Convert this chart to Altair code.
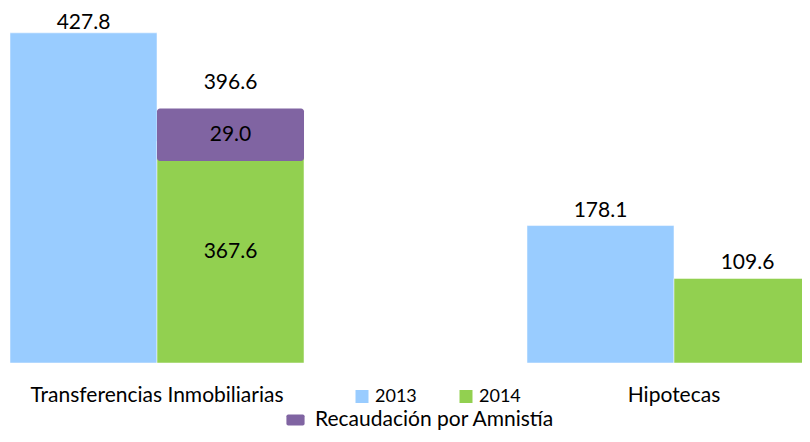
import altair as alt
import pandas as pd

# ---- data ----
categories = ["Transferencias Inmobiliarias", "Hipotecas"]
years = ["2013", "2014"]
values_2013 = [427.8, 178.1]
values_2014 = [367.6, 109.6]
# height at which the 2014 bars are actually drawn in the picture
drawn_2014 = [287.4, 109.6]
amnesty_label = "Recaudación por Amnistía"
amnesty_value = 29.0
amnesty_total = 396.6
# floating amnesty box over the 2014 transfer bar (low / high, value units)
amnesty_box = [261.9, 329.8]

BLUE, GREEN, PURPLE = "#99CCFF", "#92D050", "#8064A2"
FONT = "Lato"

bars = pd.DataFrame({
    "category": categories * 2,
    "year": ["2013"] * 2 + ["2014"] * 2,
    "height": values_2013 + drawn_2014,
    "label": [f"{v:.1f}" for v in values_2013 + values_2014],
})
bars["mid"] = bars["height"] / 2
is_inside = (bars["category"] == categories[0]) & (bars["year"] == "2014")
first_group = bars["category"] == categories[0]
top_labels_1 = bars[first_group & ~is_inside]
top_labels_2 = bars[~first_group]
inside_labels = bars[is_inside]

box = pd.DataFrame({
    "category": [categories[0]], "year": ["2014"], "serie": [amnesty_label],
    "lo": [amnesty_box[0]], "hi": [amnesty_box[1]],
    "mid": [(amnesty_box[0] + amnesty_box[1]) / 2],
    "label": [f"{amnesty_value:.1f}"], "total": [f"{amnesty_total:.1f}"],
})

x_enc = alt.X("category:N", sort=categories,
              scale=alt.Scale(range=[0, 815], paddingInner=0.4313, paddingOuter=0.00387),
              axis=alt.Axis(title=None, domain=False, ticks=False, labelAngle=0,
                            labelFont=FONT, labelFontSize=21, labelColor="black",
                            labelPadding=21, labelLimit=0))
xo_enc = alt.XOffset("year:N", sort=years,
                     scale=alt.Scale(domain=years, paddingInner=0, paddingOuter=0))
y_scale = alt.Scale(domain=[0, 460], nice=False, zero=True)

bar_layer = alt.Chart(bars).mark_bar(clip=True, stroke="white", strokeWidth=0.5).encode(
    x=x_enc, xOffset=xo_enc,
    y=alt.Y("height:Q", scale=y_scale, axis=None),
    color=alt.Color("year:N", scale=alt.Scale(domain=years, range=[BLUE, GREEN]),
                    legend=alt.Legend(title=None, orient="none", legendX=345, legendY=379.5,
                                      direction="horizontal", symbolType="square",
                                      symbolSize=169, symbolStrokeWidth=0,
                                      labelFont=FONT, labelFontSize=18, labelColor="black",
                                      labelOffset=4, columnPadding=40, padding=0)),
)

rounded = ("M-0.8,-0.6 L0.8,-0.6 Q1,-0.6 1,-0.4 L1,0.4 Q1,0.6 0.8,0.6 "
           "L-0.8,0.6 Q-1,0.6 -1,0.4 L-1,-0.4 Q-1,-0.6 -0.8,-0.6 Z")

box_layer = alt.Chart(box).mark_bar(cornerRadius=3).encode(
    x=x_enc, xOffset=xo_enc,
    y=alt.Y("hi:Q", scale=y_scale, axis=None), y2="lo:Q",
    color=alt.Color("serie:N", scale=alt.Scale(domain=[amnesty_label], range=[PURPLE]),
                    legend=alt.Legend(title=None, orient="none", legendX=277, legendY=401.5,
                                      symbolType=rounded, symbolSize=330, symbolStrokeWidth=0,
                                      labelFont=FONT, labelFontSize=21, labelColor="black",
                                      labelOffset=9, padding=0, labelLimit=400)),
)

txt = dict(font=FONT, fontSize=21, color="black")

top_text_1 = alt.Chart(top_labels_1).mark_text(baseline="alphabetic", dy=-4, **txt).encode(
    x=x_enc, xOffset=xo_enc, y=alt.Y("height:Q", scale=y_scale, axis=None), text="label:N")
top_text_2 = alt.Chart(top_labels_2).mark_text(baseline="alphabetic", dy=-9, **txt).encode(
    x=x_enc, xOffset=xo_enc, y=alt.Y("height:Q", scale=y_scale, axis=None), text="label:N")
inside_text = alt.Chart(inside_labels).mark_text(baseline="middle", **txt).encode(
    x=x_enc, xOffset=xo_enc, y=alt.Y("mid:Q", scale=y_scale, axis=None), text="label:N")
box_text = alt.Chart(box).mark_text(baseline="middle", **txt).encode(
    x=x_enc, xOffset=xo_enc, y=alt.Y("mid:Q", scale=y_scale, axis=None), text="label:N")
total_text = alt.Chart(box).mark_text(baseline="alphabetic", dy=-19, **txt).encode(
    x=x_enc, xOffset=xo_enc, y=alt.Y("hi:Q", scale=y_scale, axis=None), text="total:N")

chart = alt.layer(bar_layer, box_layer, top_text_1, top_text_2, inside_text, box_text,
                  total_text).resolve_scale(
    color="independent"
).properties(
    width=794, height=355, background="white",
    autosize=alt.AutoSizeParams(type="none"),
    padding={"left": 0, "top": 0, "right": 0, "bottom": 69},
).configure_view(stroke=None)

chart.save("out.html", embed_options={"renderer": "svg", "actions": False})
